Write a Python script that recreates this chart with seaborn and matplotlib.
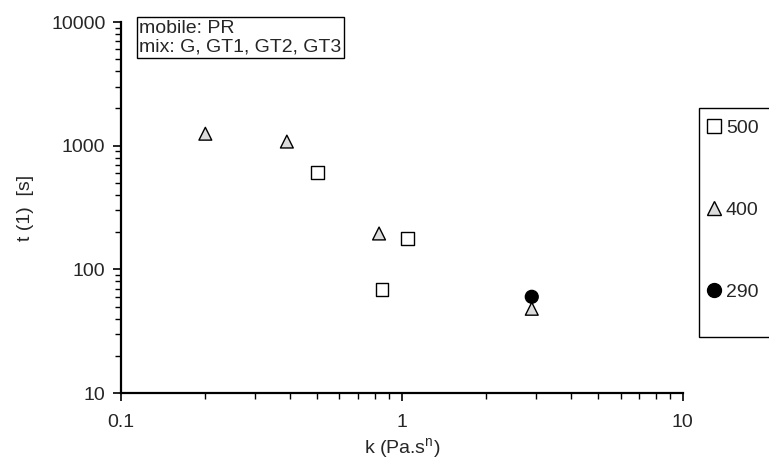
import numpy as np
import pandas as pd
import matplotlib
matplotlib.use("Agg")
import matplotlib.pyplot as plt
from matplotlib.patches import Rectangle
import seaborn as sns

# data
k_500 = [0.5, 1.05, 0.85]
t_500 = [610, 178, 69]

k_400 = [0.2, 0.39, 0.83, 2.9]
t_400 = [1250, 1080, 195, 48]

k_290 = [2.9]
t_290 = [60]

series = ["500", "400", "290"]

df = pd.concat([
    pd.DataFrame({"k": k_500, "t": t_500, "series": "500"}),
    pd.DataFrame({"k": k_400, "t": t_400, "series": "400"}),
    pd.DataFrame({"k": k_290, "t": t_290, "series": "290"}),
], ignore_index=True)

sns.set_style("ticks")
plt.rcParams["font.family"] = ["Liberation Sans", "DejaVu Sans"]

fig = plt.figure(figsize=(7.69, 4.69), dpi=100)
ax = fig.add_axes([0.157, 0.162, 0.731, 0.791])

palette = {"500": "white", "400": "#dcdcdc", "290": "black"}
markers = {"500": "s", "400": "^", "290": "o"}

sns.scatterplot(data=df, x="k", y="t", hue="series", style="series",
                hue_order=series, style_order=series,
                palette=palette, markers=markers, s=85,
                edgecolor="black", linewidth=1.0, ax=ax, zorder=3)

ax.set_xscale("log")
ax.set_yscale("log")
ax.set_xlim(0.1, 10)
ax.set_ylim(10, 10000)
ax.set_xticks([0.1, 1, 10])
ax.set_xticklabels(["0.1", "1", "10"])
ax.set_yticks([10, 100, 1000, 10000])
ax.set_yticklabels(["10", "100", "1000", "10000"])
ax.tick_params(which="major", length=6, width=1.2, labelsize=14, color="black", pad=5)
ax.tick_params(axis="x", which="major", pad=9)
ax.tick_params(which="minor", length=4, width=1.0, color="black")
sns.despine(ax=ax)
for sp in ["left", "bottom"]:
    ax.spines[sp].set_linewidth(1.6)
    ax.spines[sp].set_color("black")

ax.set_xlabel("k (Pa.s$^\\mathregular{n}$)", fontsize=14, labelpad=4)
ax.set_ylabel("t (1)  [s]", fontsize=14, labelpad=12)

# annotation box
fig.text(0.181, 0.958, "mobile: PR\nmix: G, GT1, GT2, GT3", fontsize=14,
         va="top", ha="left", linespacing=1.15,
         bbox=dict(boxstyle="square,pad=0.12", facecolor="white",
                   edgecolor="black", linewidth=1.0))

# legend on the right with its box running off the figure edge
handles, labels = ax.get_legend_handles_labels()
ax.get_legend().remove()
for h in handles:
    if hasattr(h, "set_markersize"):
        h.set_markersize(10)
fig.add_artist(Rectangle((0.909, 0.281), 0.2, 0.489, transform=fig.transFigure,
                         facecolor="white", edgecolor="black", linewidth=1.0,
                         clip_on=False))
fig.legend(handles, labels, loc="upper left", bbox_to_anchor=(0.906, 0.762),
           frameon=False, fontsize=14, labelspacing=3.3, handletextpad=0.1,
           handlelength=1.0, borderaxespad=0)

fig.savefig("out.png", dpi=100)
